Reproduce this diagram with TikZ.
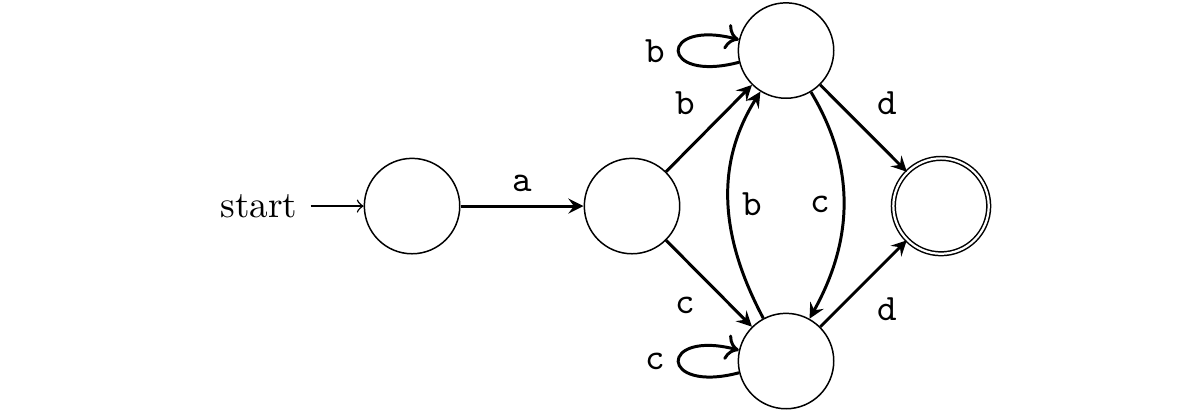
\documentclass[tikz,border=0pt]{standalone}
\usepackage{tikz}
\usetikzlibrary{arrows,arrows.meta}
\usetikzlibrary{positioning}
\tikzset{>={to}}

\begin{document}
\begin{tikzpicture}

  \tikzset{state/.style={draw, circle, minimum size=0.9cm, inner sep=0pt},
           final/.style={state, double},
           trans/.style={thick, -stealth},
           selfloop/.style={thick, -{To[length=3.5pt, width=7pt]}},
           lbl/.style={font=\ttfamily}}

  \useasboundingbox (0,0) rectangle (11.32,3.887);

  \node[state] (q0) at (3.887,1.943) {};
  \node[state] (q1) at (5.962,1.943) {};
  \node[state] (q2) at (7.415,3.410) {};
  \node[state] (q3) at (7.415,0.481) {};
  \node[final] (q4) at (8.877,1.943) {};

  \node[left=0.5cm of q0] (start) {start};
  \draw[->] (start) -- (q0);

  % straight transitions
  \draw[trans] (q0) -- node[above, lbl] {a} (q1);
  \draw[trans] (q1) -- node[above left, lbl] {b} (q2);
  \draw[trans] (q1) -- node[below left, lbl] {c} (q3);
  \draw[trans] (q2) -- node[above right, lbl] {d} (q4);
  \draw[trans] (q3) -- node[below right, lbl] {d} (q4);

  % between the two middle states
  \draw[trans] (q3.118) to [out=118, in=238] node[right, lbl] {b} (q2.238);
  \draw[trans] (q2.301) to [out=-59, in=61] node[left, lbl] {c} (q3.61);

  % self loops
  \draw[selfloop] (q2.194) .. controls +(-0.76,-0.2) and +(-0.76,0.2) .. node[left, lbl] {b} (q2.167);
  \draw[selfloop] (q3.194) .. controls +(-0.76,-0.2) and +(-0.76,0.2) .. node[left, lbl] {c} (q3.167);

\end{tikzpicture}
\end{document}
